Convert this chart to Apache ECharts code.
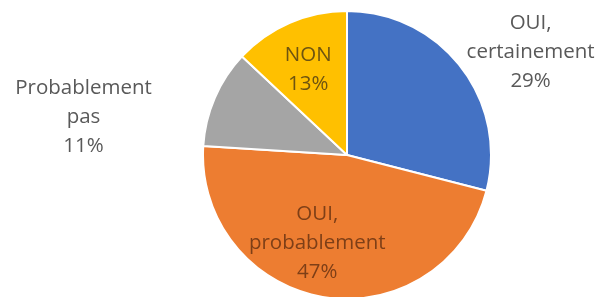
<!DOCTYPE html>
<html>
<head>
<meta charset="utf-8">
<script src="https://cdn.jsdelivr.net/npm/echarts@6/dist/echarts.min.js"></script>
<style>
html, body { margin: 0; padding: 0; background: #fff; }
#chart { width: 600px; height: 297px; }
</style>
</head>
<body>
<div id="chart"></div>
<script>
// réponses au sondage
var categories = ['OUI,\ncertainement', 'OUI,\nprobablement', 'Probablement\npas', 'NON'];
var values = [29, 47, 11, 13];
var colors = ['#4472C4', '#ED7D31', '#A5A5A5', '#FFC000'];

var chart = echarts.init(document.getElementById('chart'));

var dataArr = [];
for (var i = 0; i < categories.length; i++) {
	dataArr.push({ name: categories[i], value: values[i], itemStyle: { color: colors[i] } });
}
// labels dans les parts orange et jaune
dataArr[1].label = { position: 'inside', color: '#7E3F17' };
dataArr[3].label = { position: 'inside', color: '#6E5410' };

// décalage des labels (dx, dy)
var shift = [[49, -2], [-18, 14], [-108, 27], [-9, -17]];

var option = {
	animation: false,
	series: [{
		type: 'pie',
		center: [347, 155],
		radius: 144,
		startAngle: 90,
		clockwise: true,
		data: dataArr,
		itemStyle: {
			borderColor: '#fff',
			borderWidth: 2
		},
		label: {
			show: true,
			formatter: '{b}\n{d}%',
			fontFamily: 'Open Sans',
			fontSize: 20.5,
			lineHeight: 29,
			color: '#595959',
			align: 'center',
			overflow: 'none'
		},
		labelLine: { show: false, length: 20, length2: 0 },
		labelLayout: function (params) {
			return {
				align: 'center',
				width: 200,
				dx: shift[params.dataIndex][0],
				dy: shift[params.dataIndex][1]
			};
		}
	}]
};
chart.setOption(option);

window.onresize = function () {
	chart.resize();
};
</script>
</body>
</html>
